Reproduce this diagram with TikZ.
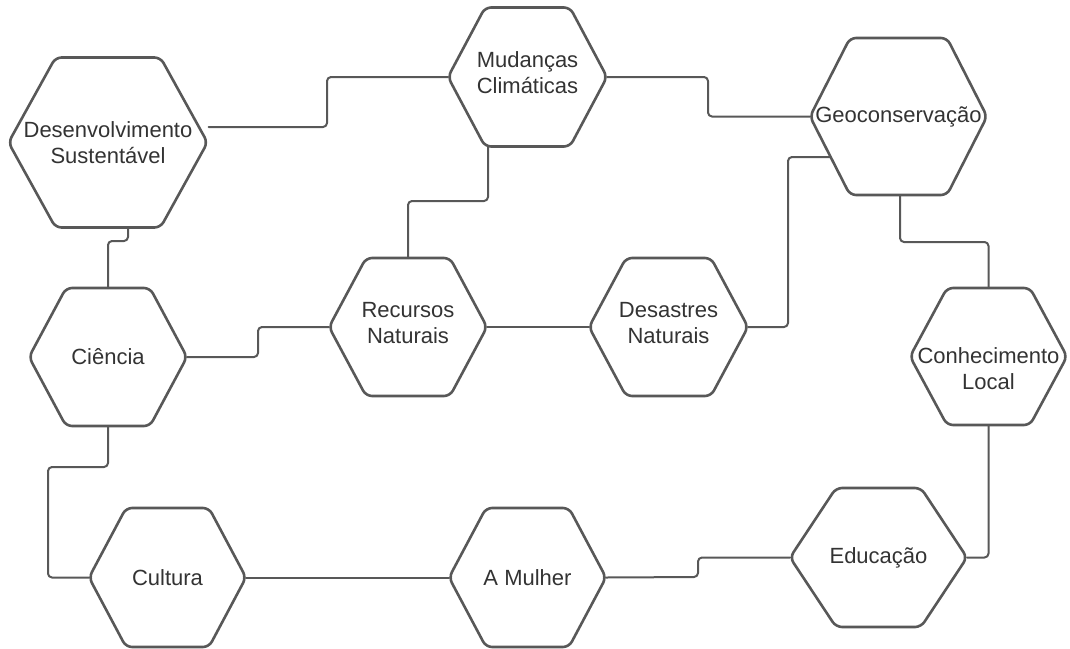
\documentclass[tikz,border=0pt]{standalone}
\usepackage{fontspec}
\setmainfont{Liberation Sans}
\usetikzlibrary{calc}
\definecolor{hexgray}{RGB}{88,88,88}
\definecolor{txtgray}{RGB}{51,51,51}
\tikzset{
  hexbox/.style={draw=none, inner sep=0pt, outer sep=0pt},
  hexline/.style={draw=hexgray, line width=2.6pt, rounded corners=6pt},
  hextext/.style={align=center, text=txtgray, font=\fontsize{22}{26}\selectfont},
  link/.style={draw=hexgray, line width=2pt, rounded corners=4pt}
}
% name, x, y, width, height, inset, text
\newcommand{\hexa}[8][]{%
  \node[hexbox, minimum width=#5, minimum height=#6] (#2) at (#3,#4) {};
  \draw[hexline] (#2.west) -- ++(#7,-#6/2) -- ++(#5-2*#7,0) -- ++(#7,#6/2)
    -- ++(-#7,#6/2) -- ++(-#5+2*#7,0) -- cycle;
  \node[hextext, #1] at (#2) {#8};
}
\begin{document}
\begin{tikzpicture}[x=1pt, y=-1pt, line join=round, line cap=round]
  \useasboundingbox (0,0) rectangle (1070,648);
  % hexagons
  \hexa{ds}{108}{142.5}{199}{170}{47}{Desenvolvimento\\Sustentável}
  \hexa[yshift=4pt]{mc}{527.5}{77}{159}{139}{37}{Mudanças\\Climáticas}
  \hexa{geo}{898.5}{116.5}{177}{157}{40}{Geoconservação}
  \hexa{ci}{108}{357}{158}{138}{37}{Ciência}
  \hexa[yshift=4pt]{rn}{408}{327}{158}{138}{37}{Recursos\\Naturais}
  \hexa[yshift=4pt]{da}{668.5}{327}{159}{138}{37}{Desastres\\Naturais}
  \hexa[yshift=-12pt]{cl}{988.5}{356.5}{157}{137}{37}{Conhecimento\\Local}
  \hexa{cu}{167.5}{577.5}{157}{139}{37}{Cultura}
  \hexa{am}{527.5}{577.5}{157}{139}{37}{A Mulher}
  \hexa{edu}{878.5}{557.5}{177}{139}{46}{Educação}
  % connectors
  \draw[link] ($(ds.east)+(1,-15.5)$) -- (327,127) |- (mc.west);
  \draw[link] (mc.east) -- (708,77) |- (geo.west);
  \draw[link] ($(mc.south)+(-39.5,0)$) -- (488,201) -| (rn.north);
  \draw[link] ($(ds.south)+(20,0)$) -- (128,241) -| (ci.north);
  \draw[link] (ci.east) -- (258,357) |- (rn.west);
  \draw[link] (rn.east) -- (da.west);
  \draw[link] (da.east) -- (788,327) |- ($(geo.west)+(20.5,40.5)$);
  \draw[link] ($(geo.south)+(1.5,0)$) -- (900,242) -| (cl.north);
  \draw[link] (cl.south) |- (edu.east);
  \draw[link] (ci.south) -- (108,467) -- (48,467) |- (cu.west);
  \draw[link] (cu.east) -- (am.west);
  \draw[link] (am.east) -- (698,577) |- (edu.west);
\end{tikzpicture}
\end{document}
